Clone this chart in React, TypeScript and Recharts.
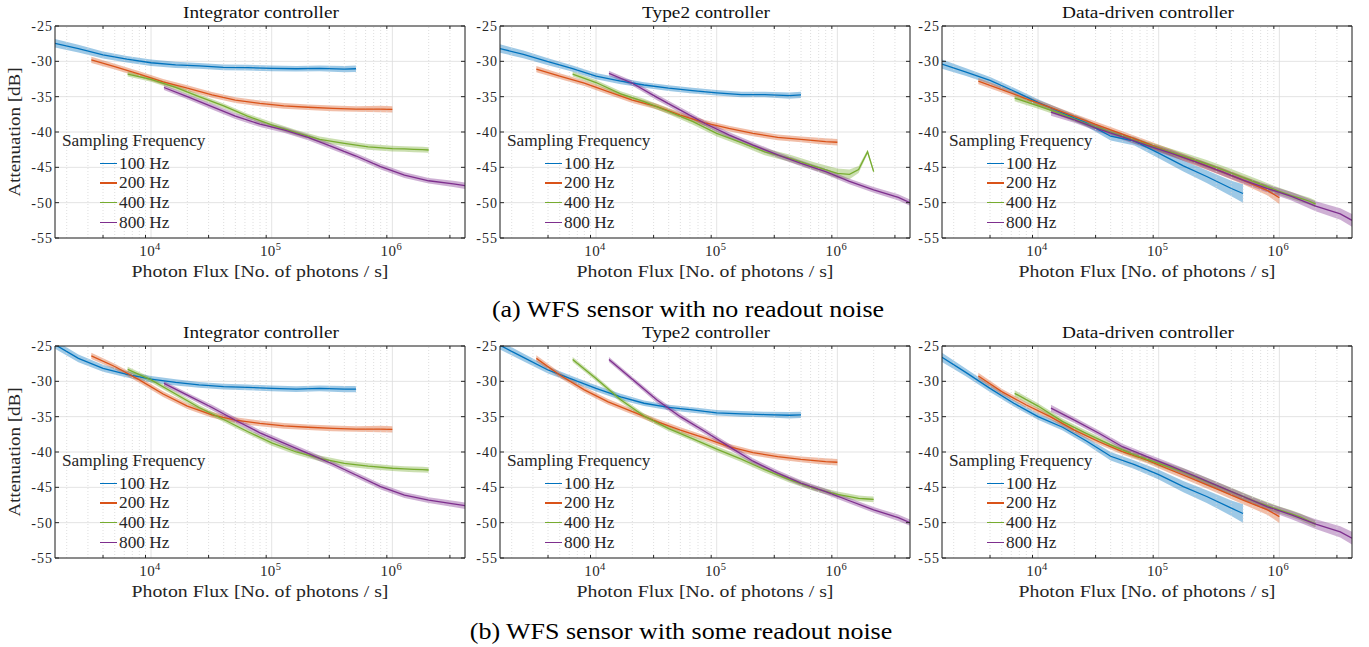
import React from "react";
import {
  ComposedChart,
  Line,
  Area,
  XAxis,
  YAxis,
  CartesianGrid,
  ReferenceLine,
} from "recharts";

// photon flux sample points for each sampling frequency
const FLUX_100 = [1.6e3, 2.5e3, 4e3, 6.3e3, 1e4, 1.6e4, 2.5e4, 4e4, 6.3e4, 1e5, 1.6e5, 2.5e5, 4e5, 5e5];
const FLUX_200 = [3.2e3, 5e3, 8e3, 1.26e4, 2e4, 3.2e4, 5e4, 8e4, 1.26e5, 2e5, 3.2e5, 5e5, 8e5, 1e6];
const FLUX_400 = [6.4e3, 1e4, 1.6e4, 2.5e4, 4e4, 6.3e4, 1e5, 1.6e5, 2.5e5, 4e5, 6.3e5, 1e6, 1.26e6, 1.5e6, 1.78e6, 2e6];
const FLUX_800 = [1.28e4, 2e4, 3.2e4, 5e4, 8e4, 1.26e5, 2e5, 3.2e5, 5e5, 8e5, 1.26e6, 2e6, 3.2e6, 4e6];

const FREQS = ["100 Hz", "200 Hz", "400 Hz", "800 Hz"];
const COLORS = ["#0072BD", "#D95319", "#77AC30", "#7E2F8E"];

const X_MAJOR = [1e4, 1e5, 1e6];
const X_MINOR = [2e3, 3e3, 4e3, 5e3, 6e3, 7e3, 8e3, 9e3, 2e4, 3e4, 4e4, 5e4, 6e4, 7e4, 8e4, 9e4, 2e5, 3e5, 4e5, 5e5, 6e5, 7e5, 8e5, 9e5, 2e6, 3e6];
const Y_TICKS = [-55, -50, -45, -40, -35, -30, -25];

// (a) no readout noise — mean attenuation [dB]
const INT_A_100 = [-27.45, -28.2, -29.1, -29.7, -30.2, -30.5, -30.65, -30.85, -30.9, -31.0, -31.05, -31.0, -31.1, -31.05];
const INT_A_200 = [-29.8, -30.75, -31.8, -32.9, -33.8, -34.75, -35.5, -35.95, -36.3, -36.5, -36.65, -36.75, -36.75, -36.8];
const INT_A_400 = [-31.8, -32.55, -33.7, -35.0, -36.3, -37.75, -39.0, -40.1, -41.05, -41.6, -42.1, -42.35, -42.4, -42.45, -42.5, -42.55];
const INT_A_800 = [-33.7, -35.0, -36.4, -37.75, -38.9, -39.7, -40.75, -42.1, -43.4, -44.9, -46.1, -46.9, -47.35, -47.6];

const T2_A_100 = [-28.2, -29.0, -30.05, -31.0, -32.1, -32.8, -33.35, -33.8, -34.15, -34.45, -34.7, -34.7, -34.85, -34.75];
const T2_A_200 = [-31.1, -32.1, -33.1, -34.3, -35.5, -36.4, -37.6, -38.7, -39.5, -40.2, -40.75, -41.05, -41.35, -41.45];
const T2_A_400 = [-31.8, -33.0, -34.6, -35.7, -37.1, -38.5, -40.2, -41.5, -42.8, -43.7, -44.8, -45.85, -46.0, -45.3, -42.8, -45.6];
const T2_A_800 = [-31.7, -33.1, -35.1, -36.9, -38.8, -40.4, -41.85, -43.25, -44.45, -45.6, -47.0, -48.2, -49.25, -50.0];

const DD_A_100 = [-30.4, -31.5, -32.7, -34.2, -35.8, -37.3, -38.7, -40.6, -41.3, -43.0, -44.8, -46.3, -48.0, -48.7];
const DD_A_200 = [-32.8, -34.0, -35.3, -36.5, -37.8, -39.1, -40.3, -41.6, -42.9, -44.2, -45.5, -46.8, -48.3, -49.3];
const DD_A_400 = [-35.2, -36.3, -37.5, -38.8, -40.0, -41.2, -42.3, -43.4, -44.5, -45.8, -47.1, -48.4, -49.0, -49.4, -49.8, -50.2];
const DD_A_800 = [-37.2, -38.3, -39.6, -40.7, -41.9, -43.0, -44.2, -45.5, -46.8, -48.0, -49.1, -50.5, -51.6, -52.5];

// (b) some readout noise — mean attenuation [dB]
const INT_B_100 = [-24.8, -26.75, -28.15, -29.0, -29.7, -30.15, -30.5, -30.75, -30.85, -31.0, -31.1, -31.0, -31.1, -31.1];
const INT_B_200 = [-26.4, -27.9, -29.8, -31.8, -33.5, -34.75, -35.5, -35.95, -36.3, -36.5, -36.65, -36.75, -36.75, -36.8];
const INT_B_400 = [-28.3, -29.8, -31.8, -33.7, -35.4, -37.1, -38.7, -40.0, -40.9, -41.6, -42.0, -42.3, -42.4, -42.45, -42.5, -42.55];
const INT_B_800 = [-30.3, -31.95, -33.7, -35.5, -37.3, -38.75, -40.2, -41.7, -43.25, -44.9, -46.1, -46.8, -47.35, -47.6];

const T2_B_100 = [-24.9, -26.6, -28.4, -29.7, -31.0, -32.2, -33.1, -33.7, -34.05, -34.45, -34.6, -34.7, -34.8, -34.75];
const T2_B_200 = [-26.75, -29.1, -31.2, -32.9, -34.3, -35.7, -36.9, -38.05, -39.25, -40.1, -40.65, -41.05, -41.35, -41.45];
const T2_B_400 = [-26.9, -29.6, -32.6, -34.9, -36.7, -38.1, -39.6, -41.0, -42.5, -43.9, -45.1, -46.0, -46.3, -46.55, -46.65, -46.7];
const T2_B_800 = [-26.9, -29.7, -32.65, -35.0, -37.1, -39.2, -41.3, -43.0, -44.4, -45.6, -46.9, -48.2, -49.3, -50.0];

const DD_B_100 = [-26.6, -28.7, -31.0, -33.1, -35.0, -36.5, -38.4, -40.6, -41.8, -43.2, -44.9, -46.3, -47.95, -48.7];
const DD_B_200 = [-29.25, -31.45, -33.35, -35.0, -36.9, -38.55, -39.95, -41.15, -42.55, -43.95, -45.4, -46.8, -48.2, -49.15];
const DD_B_400 = [-31.7, -33.5, -35.7, -37.35, -39.0, -40.4, -41.6, -42.8, -44.2, -45.6, -47.0, -48.2, -48.75, -49.2, -49.8, -50.2];
const DD_B_800 = [-33.8, -35.5, -37.35, -39.25, -40.65, -42.0, -43.4, -44.9, -46.3, -47.75, -48.9, -50.2, -51.3, -52.2];

// shaded band half-widths [dB]
const BAND_FLAT_100 = [0.6, 0.55, 0.5, 0.45, 0.45, 0.45, 0.4, 0.4, 0.4, 0.4, 0.4, 0.4, 0.45, 0.45];
const BAND_FLAT_200 = [0.45, 0.4, 0.4, 0.4, 0.4, 0.4, 0.4, 0.4, 0.4, 0.4, 0.4, 0.4, 0.45, 0.45];
const BAND_FLAT_400 = [0.35, 0.35, 0.35, 0.35, 0.35, 0.35, 0.4, 0.4, 0.4, 0.4, 0.4, 0.4, 0.4, 0.4, 0.4, 0.4];
const BAND_FLAT_800 = [0.35, 0.35, 0.4, 0.4, 0.4, 0.4, 0.4, 0.4, 0.4, 0.4, 0.4, 0.4, 0.45, 0.45];
const BAND_T2A_400 = [0.35, 0.35, 0.35, 0.4, 0.4, 0.45, 0.45, 0.45, 0.5, 0.5, 0.55, 0.7, 0.7, 0.5, 0.3, 0.3];
const BAND_DD_100 = [0.65, 0.55, 0.5, 0.45, 0.45, 0.45, 0.5, 0.6, 0.6, 0.7, 0.8, 0.9, 1.1, 1.3];
const BAND_DD_200 = [0.45, 0.4, 0.4, 0.4, 0.4, 0.4, 0.4, 0.45, 0.5, 0.5, 0.55, 0.6, 0.7, 0.9];
const BAND_DD_400 = [0.45, 0.4, 0.4, 0.4, 0.4, 0.4, 0.45, 0.5, 0.55, 0.55, 0.55, 0.5, 0.5, 0.5, 0.5, 0.5];
const BAND_DD_800 = [0.5, 0.4, 0.4, 0.4, 0.4, 0.45, 0.45, 0.5, 0.5, 0.55, 0.6, 0.7, 0.8, 0.9];

const FLUXES = [FLUX_100, FLUX_200, FLUX_400, FLUX_800];
const FLAT_BANDS = [BAND_FLAT_100, BAND_FLAT_200, BAND_FLAT_400, BAND_FLAT_800];
const DD_BANDS = [BAND_DD_100, BAND_DD_200, BAND_DD_400, BAND_DD_800];

const PANELS = [
  { title: "Integrator controller", row: 0, col: 0, means: [INT_A_100, INT_A_200, INT_A_400, INT_A_800], bands: FLAT_BANDS },
  { title: "Type2 controller", row: 0, col: 1, means: [T2_A_100, T2_A_200, T2_A_400, T2_A_800], bands: [BAND_FLAT_100, BAND_FLAT_200, BAND_T2A_400, BAND_FLAT_800] },
  { title: "Data-driven controller", row: 0, col: 2, means: [DD_A_100, DD_A_200, DD_A_400, DD_A_800], bands: DD_BANDS },
  { title: "Integrator controller", row: 1, col: 0, means: [INT_B_100, INT_B_200, INT_B_400, INT_B_800], bands: FLAT_BANDS },
  { title: "Type2 controller", row: 1, col: 1, means: [T2_B_100, T2_B_200, T2_B_400, T2_B_800], bands: FLAT_BANDS },
  { title: "Data-driven controller", row: 1, col: 2, means: [DD_B_100, DD_B_200, DD_B_400, DD_B_800], bands: DD_BANDS },
];

const CAPTIONS = ["(a) WFS sensor with no readout noise", "(b) WFS sensor with some readout noise"];

const COL_LEFT = [55, 500, 942];
const ROW_TOP = [26, 346];
const PLOT_W = 410;
const PLOT_H = 212;
const PAD_L = 45;
const PAD_T = 10;
const PAD_R = 10;
const PAD_B = 30;

const AX = "#262626";
const FONT = "'Liberation Serif', 'Times New Roman', serif";

function buildRows(means: number[][], bands: number[][]) {
  const map = new Map<number, any>();
  FLUXES.forEach((fx, s) => {
    fx.forEach((x, i) => {
      const row = map.get(x) ?? { x };
      row[`m${s}`] = means[s][i];
      row[`r${s}`] = [means[s][i] - bands[s][i], means[s][i] + bands[s][i]];
      map.set(x, row);
    });
  });
  return [...map.values()].sort((a, b) => a.x - b.x);
}

const XTick = (props: any) => {
  const { x, y, payload } = props;
  const exp = Math.round(Math.log10(payload.value));
  return (
    <text x={x - 1} y={y + 10} textAnchor="middle" fontSize={15} letterSpacing={0.4} fontFamily={FONT} fill={AX}>
      10<tspan dy={-6.5} fontSize={10.5}>{exp}</tspan>
    </text>
  );
};

const emptyTick = () => <g />;

// centered, horizontally stretched text (the figure is a bit wider than tall)
function Label({ x, y, size, sx, rotate, children, color = AX }: any) {
  return (
    <div
      style={{
        position: "absolute",
        left: x,
        top: y,
        transform: `translate(-50%, -50%)${rotate ? " rotate(-90deg)" : ""} scaleX(${sx})`,
        whiteSpace: "nowrap",
        fontFamily: FONT,
        fontSize: size,
        lineHeight: 1,
        color,
      }}
    >
      {children}
    </div>
  );
}

function Panel({ panel }: { panel: (typeof PANELS)[number] }) {
  const rows = buildRows(panel.means, panel.bands);
  const left = COL_LEFT[panel.col];
  const top = ROW_TOP[panel.row];
  const xDomain = [1600, 4e6];
  const yDomain = [-55, -25];

  return (
    <>
      <div style={{ position: "absolute", left: left - PAD_L, top: top - PAD_T }}>
        <ComposedChart
          width={PAD_L + PLOT_W + PAD_R}
          height={PAD_T + PLOT_H + PAD_B}
          data={rows}
          margin={{ top: PAD_T, right: PAD_R, left: 0, bottom: 0 }}
        >
          <CartesianGrid xAxisId="b" yAxisId="l" stroke="#dcdcdc" strokeWidth={0.8} />
          {X_MINOR.map((v) => (
            <ReferenceLine key={v} xAxisId="b" yAxisId="l" x={v} stroke="#d6d6d6" strokeWidth={0.8} strokeDasharray="1 2" />
          ))}
          <XAxis
            xAxisId="b"
            dataKey="x"
            type="number"
            scale="log"
            domain={xDomain}
            allowDataOverflow
            ticks={X_MAJOR}
            tick={<XTick />}
            tickLine={false}
            axisLine={{ stroke: AX }}
            height={PAD_B}
          />
          <XAxis
            xAxisId="bm"
            dataKey="x"
            type="number"
            scale="log"
            domain={xDomain}
            allowDataOverflow
            ticks={[...X_MAJOR, ...X_MINOR]}
            mirror
            tick={emptyTick}
            tickSize={3}
            tickLine={{ stroke: AX }}
            axisLine={false}
            height={1}
          />
          <XAxis
            xAxisId="t"
            orientation="top"
            dataKey="x"
            type="number"
            scale="log"
            domain={xDomain}
            allowDataOverflow
            ticks={[...X_MAJOR, ...X_MINOR]}
            mirror
            tick={emptyTick}
            tickSize={3}
            tickLine={{ stroke: AX }}
            axisLine={{ stroke: AX }}
            height={1}
          />
          <YAxis
            yAxisId="l"
            type="number"
            domain={yDomain}
            allowDataOverflow
            ticks={Y_TICKS}
            tick={{ fontSize: 14, fontFamily: FONT, fill: AX, letterSpacing: 1 }}
            tickLine={false}
            tickSize={1}
            tickMargin={1}
            axisLine={{ stroke: AX }}
            width={PAD_L}
          />
          <YAxis
            yAxisId="lm"
            type="number"
            domain={yDomain}
            allowDataOverflow
            ticks={Y_TICKS}
            mirror
            tick={emptyTick}
            tickSize={4}
            tickLine={{ stroke: AX }}
            axisLine={false}
            width={1}
          />
          <YAxis
            yAxisId="r"
            orientation="right"
            type="number"
            domain={yDomain}
            allowDataOverflow
            ticks={Y_TICKS}
            mirror
            tick={emptyTick}
            tickSize={4}
            tickLine={{ stroke: AX }}
            axisLine={{ stroke: AX }}
            width={1}
          />
          {COLORS.map((c, s) => (
            <Area
              key={`a${s}`}
              xAxisId="b"
              yAxisId="l"
              type="linear"
              dataKey={`r${s}`}
              stroke="none"
              fill={c}
              fillOpacity={0.38}
              connectNulls
              isAnimationActive={false}
            />
          ))}
          {COLORS.map((c, s) => (
            <Line
              key={`l${s}`}
              xAxisId="b"
              yAxisId="l"
              type="linear"
              dataKey={`m${s}`}
              stroke={c}
              strokeWidth={1.3}
              dot={false}
              connectNulls
              isAnimationActive={false}
            />
          ))}
        </ComposedChart>
      </div>

      <Label x={left + PLOT_W / 2 + 1} y={top - 13} size={16.5} sx={1.17} color="#111">
        {panel.title}
      </Label>
      <Label x={left + PLOT_W / 2} y={top + PLOT_H + 34} size={16.5} sx={1.2}>
        Photon Flux [No. of photons / s]
      </Label>
      {panel.col === 0 && (
        <Label x={15} y={top + PLOT_H / 2} size={16.5} sx={1.15} rotate>
          Attenuation [dB]
        </Label>
      )}

      <div style={{ position: "absolute", left: left + 7, top: top + 115, transform: "translateY(-50%) scaleX(1.08)", transformOrigin: "left center", whiteSpace: "nowrap", fontFamily: FONT, fontSize: 16, lineHeight: 1, color: AX }}>
        Sampling Frequency
      </div>
      {FREQS.map((f, s) => (
        <React.Fragment key={f}>
          <div style={{ position: "absolute", left: left + 45, top: top + 136.5 + s * 19.7, width: 17, height: 1.6, background: COLORS[s] }} />
          <div style={{ position: "absolute", left: left + 64, top: top + 137.5 + s * 19.7, transform: "translateY(-50%) scaleX(1.08)", transformOrigin: "left center", whiteSpace: "nowrap", fontFamily: FONT, fontSize: 16, lineHeight: 1, color: AX }}>
            {f}
          </div>
        </React.Fragment>
      ))}
    </>
  );
}

export default function App() {
  return (
    <div style={{ position: "absolute", left: 0, top: 0, width: 1369, height: 647, background: "#fff", overflow: "hidden" }}>
      {PANELS.map((p, i) => (
        <Panel key={i} panel={p} />
      ))}
      <Label x={688} y={309} size={23} sx={1.13} color="#000">
        {CAPTIONS[0]}
      </Label>
      <Label x={681} y={631} size={23} sx={1.13} color="#000">
        {CAPTIONS[1]}
      </Label>
    </div>
  );
}
